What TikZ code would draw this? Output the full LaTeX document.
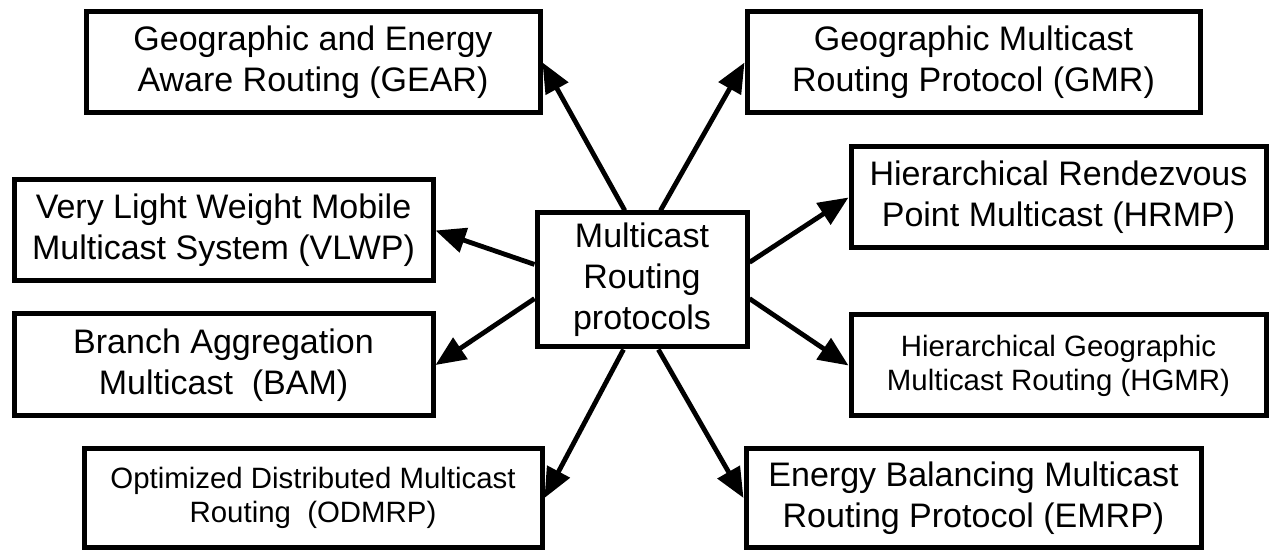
\documentclass[tikz,border=0pt]{standalone}
\usepackage{fontspec}
\newfontfamily\lab{Liberation Sans}
\usetikzlibrary{arrows.meta,calc}
\begin{document}
\begin{tikzpicture}[x=0.5pt,y=-0.5pt,
  box/.style={draw, line width=2.5pt, align=center, inner sep=0pt, font=\lab\fontsize{17}{20.5}\selectfont},
  smallbox/.style={box, font=\lab\fontsize{14.7}{17}\selectfont},
  link/.style={line width=2.4pt, -{Triangle[length=15pt,width=12.5pt]}}]
\useasboundingbox[fill=white] (0,0) rectangle (1270,550);

\node[box, minimum width=105pt, minimum height=67pt] (c) at (642,280) {Multicast\\Routing\\protocols};

\node[box, minimum width=227pt, minimum height=50.5pt] (gear) at (313,62.5) {Geographic and Energy\\Aware Routing (GEAR)};
\node[box, minimum width=226.5pt, minimum height=50.5pt] (gmr) at (973.5,62.5) {Geographic Multicast\\Routing Protocol (GMR)};
\node[box, minimum width=207.5pt, minimum height=50.5pt] (hrmp) at (1058.5,197.5) {Hierarchical Rendezvous\\Point Multicast (HRMP)};
\node[box, minimum width=209.5pt, minimum height=50.5pt] (vlwp) at (223.5,230.5) {Very Light Weight Mobile\\Multicast System (VLWP)};
\node[box, minimum width=209.5pt, minimum height=51pt] (bam) at (223.5,365) {Branch Aggregation\\Multicast\ \ (BAM)};
\node[smallbox, minimum width=207.5pt, minimum height=50.5pt] (hgmr) at (1058.5,365.5) {Hierarchical Geographic\\Multicast Routing (HGMR)};
\node[smallbox, minimum width=229pt, minimum height=49.5pt] (odmrp) at (313,498) {Optimized Distributed Multicast\\Routing\ \ (ODMRP)};
\node[box, minimum width=227.5pt, minimum height=49.5pt] (emrp) at (973.5,498) {Energy Balancing Multicast\\Routing Protocol (EMRP)};

\draw[link] ($(c.north west)!0.42!(c.north east)$) -- (gear.east);
\draw[link] ($(c.north west)!0.586!(c.north east)$) -- (gmr.west);
\draw[link] ($(c.north east)!0.373!(c.south east)$) -- (hrmp.west);
\draw[link] ($(c.north west)!0.388!(c.south west)$) -- (vlwp.east);
\draw[link] ($(c.north west)!0.634!(c.south west)$) -- (bam.east);
\draw[link] ($(c.north east)!0.634!(c.south east)$) -- (hgmr.west);
\draw[link] ($(c.south west)!0.414!(c.south east)$) -- (odmrp.east);
\draw[link] ($(c.south west)!0.576!(c.south east)$) -- (emrp.west);
\end{tikzpicture}
\end{document}
